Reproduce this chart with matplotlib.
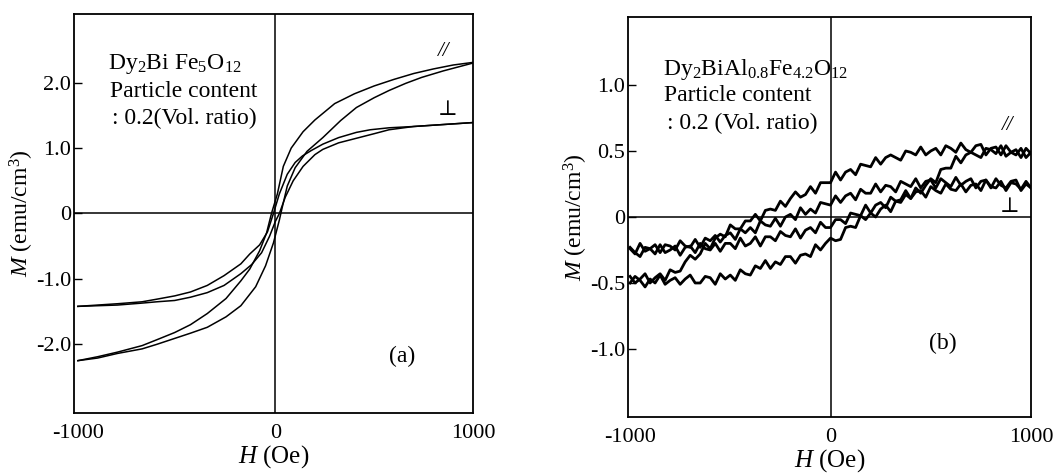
import matplotlib
matplotlib.use("Agg")
import matplotlib.pyplot as plt
import numpy as np

plt.rcParams['font.family'] = ['Liberation Serif', 'DejaVu Serif']
plt.rcParams['mathtext.fontset'] = 'custom'
plt.rcParams['mathtext.rm'] = 'Liberation Serif'
plt.rcParams['mathtext.it'] = 'Liberation Serif:italic'

# ---- panel (a): Dy2BiFe5O12 ----
H_par_dn = [1000, 900, 800, 700, 600, 500, 400, 300, 200, 140, 80, 40, 10, -20, -45,
            -80, -130, -175, -250, -345, -430, -510, -600, -675, -800, -900, -1000]
M_par_dn = [2.31, 2.27, 2.21, 2.14, 2.05, 1.95, 1.83, 1.68, 1.43, 1.25, 1.00, 0.72, 0.30, 0.00, -0.30,
            -0.57, -0.85, -1.03, -1.30, -1.53, -1.70, -1.82, -1.93, -2.02, -2.12, -2.19, -2.25]
H_par_up = [-1000, -900, -800, -675, -600, -510, -430, -345, -250, -175, -100, -50, -10, 20, 35,
            60, 100, 160, 240, 330, 410, 500, 575, 660, 740, 850, 1000]
M_par_up = [-2.25, -2.21, -2.14, -2.07, -2.00, -1.91, -1.83, -1.74, -1.58, -1.41, -1.12, -0.80, -0.45, -0.10, 0.10,
            0.42, 0.70, 0.95, 1.16, 1.42, 1.62, 1.77, 1.88, 1.99, 2.08, 2.18, 2.30]
H_per_dn = [1000, 900, 800, 700, 575, 480, 410, 320, 240, 180, 137, 100, 60, 20, -10,
            -40, -80, -130, -175, -260, -345, -430, -510, -600, -675, -800, -1000]
M_per_dn = [1.39, 1.37, 1.35, 1.33, 1.31, 1.28, 1.24, 1.16, 1.06, 0.96, 0.88, 0.78, 0.60, 0.30, 0.00,
            -0.28, -0.48, -0.62, -0.77, -0.95, -1.10, -1.20, -1.26, -1.31, -1.35, -1.38, -1.42]
H_per_up = [-1000, -800, -675, -600, -510, -430, -345, -260, -175, -120, -70, -30, 0, 20, 50,
            90, 140, 200, 240, 320, 410, 500, 575, 700, 850, 1000]
M_per_up = [-1.42, -1.40, -1.37, -1.35, -1.33, -1.28, -1.21, -1.10, -0.92, -0.78, -0.60, -0.35, -0.12, 0.00, 0.25,
            0.50, 0.72, 0.90, 0.98, 1.08, 1.15, 1.22, 1.28, 1.33, 1.36, 1.39]

# ---- panel (b): Dy2BiAl0.8Fe4.2O12, noisy traces, one value per 25 Oe ----
H_b = np.arange(-1000, 1001, 25)
M_b_par_dn = [-0.45, -0.50, -0.47, -0.43, -0.50, -0.46, -0.43, -0.48, -0.40, -0.42,
              -0.41, -0.34, -0.29, -0.32, -0.28, -0.20, -0.24, -0.16, -0.13, -0.15,
              -0.06, -0.09, -0.09, -0.03, -0.03, 0.02, -0.03, 0.05, 0.06, 0.05,
              0.12, 0.08, 0.14, 0.19, 0.15, 0.17, 0.23, 0.18, 0.26, 0.26,
              0.26, 0.34, 0.28, 0.34, 0.36, 0.32, 0.40, 0.39, 0.38, 0.45,
              0.40, 0.45, 0.47, 0.45, 0.43, 0.50, 0.49, 0.47, 0.53, 0.47,
              0.50, 0.52, 0.47, 0.54, 0.52, 0.49, 0.56, 0.51, 0.49, 0.54,
              0.55, 0.47, 0.52, 0.53, 0.47, 0.54, 0.49, 0.47, 0.52, 0.45, 0.49]
M_b_par_up = [-0.50, -0.45, -0.48, -0.53, -0.47, -0.50, -0.44, -0.51, -0.48, -0.46,
              -0.51, -0.47, -0.44, -0.50, -0.50, -0.45, -0.46, -0.51, -0.43, -0.47,
              -0.44, -0.48, -0.40, -0.43, -0.44, -0.37, -0.39, -0.33, -0.39, -0.34,
              -0.36, -0.30, -0.30, -0.35, -0.29, -0.28, -0.30, -0.21, -0.25, -0.20,
              -0.16, -0.18, -0.17, -0.08, -0.07, -0.08, 0.01, -0.02, 0.03, 0.00,
              0.06, 0.09, 0.04, 0.12, 0.11, 0.17, 0.14, 0.22, 0.18, 0.24,
              0.29, 0.26, 0.36, 0.37, 0.37, 0.46, 0.41, 0.47, 0.49, 0.47,
              0.45, 0.52, 0.51, 0.48, 0.54, 0.46, 0.49, 0.51, 0.45, 0.52, 0.48]
M_b_per_dn = [-0.24, -0.28, -0.20, -0.26, -0.24, -0.21, -0.27, -0.21, -0.22, -0.25,
              -0.18, -0.22, -0.23, -0.17, -0.23, -0.16, -0.18, -0.14, -0.19, -0.14,
              -0.12, -0.17, -0.09, -0.12, -0.08, -0.12, -0.03, -0.06, -0.07, -0.01,
              -0.07, 0.00, 0.02, -0.02, 0.07, 0.02, 0.06, 0.03, 0.11, 0.10,
              0.09, 0.16, 0.11, 0.16, 0.18, 0.13, 0.21, 0.18, 0.18, 0.25,
              0.19, 0.24, 0.23, 0.19, 0.27, 0.25, 0.23, 0.29, 0.22, 0.27,
              0.28, 0.22, 0.29, 0.26, 0.23, 0.30, 0.24, 0.27, 0.29, 0.22,
              0.27, 0.28, 0.22, 0.29, 0.24, 0.22, 0.27, 0.28, 0.20, 0.25, 0.22]
M_b_per_up = [-0.23, -0.27, -0.30, -0.23, -0.24, -0.28, -0.21, -0.27, -0.25, -0.22,
              -0.29, -0.23, -0.22, -0.27, -0.20, -0.24, -0.25, -0.20, -0.26, -0.20,
              -0.20, -0.24, -0.16, -0.22, -0.20, -0.15, -0.22, -0.15, -0.15, -0.18,
              -0.11, -0.14, -0.15, -0.09, -0.16, -0.10, -0.08, -0.12, -0.04, -0.08,
              -0.08, -0.02, -0.02, -0.05, 0.03, 0.02, 0.01, 0.09, 0.03, 0.09,
              0.11, 0.07, 0.15, 0.12, 0.13, 0.20, 0.14, 0.19, 0.20, 0.15,
              0.23, 0.20, 0.18, 0.25, 0.21, 0.20, 0.25, 0.19, 0.24, 0.25,
              0.20, 0.28, 0.23, 0.22, 0.27, 0.20, 0.26, 0.25, 0.21, 0.27, 0.22]

xticks = [-1000, 0, 1000]
xticklabels = ['-1000', '0', '1000']
yticks_a = [-2.0, -1.0, 0, 1.0, 2.0]
yticklabels_a = ['-2.0', '-1.0', '0', '1.0', '2.0']
yticks_b = [-1.0, -0.5, 0, 0.5, 1.0]
yticklabels_b = ['-1.0', '-0.5', '0', '0.5', '1.0']

fig = plt.figure(figsize=(10.58, 4.76), dpi=100)
ax1 = fig.add_axes([0.0699, 0.1324, 0.3771, 0.8382])
ax2 = fig.add_axes([0.5936, 0.124, 0.3809, 0.8403])

def frame(ax, yt, ytl):
    ax.axhline(0, color='k', lw=1.1, zorder=1)
    ax.axvline(0, color='k', lw=1.1, zorder=1)
    for s in ax.spines.values():
        s.set_linewidth(1.3)
    ax.set_xticks(xticks)
    ax.set_xticklabels(xticklabels)
    ax.set_yticks(yt)
    ax.set_yticklabels(ytl)
    ax.tick_params(axis='y', direction='in', length=6, width=1, pad=2, labelsize=16)
    ax.tick_params(axis='x', length=0, pad=8, labelsize=16)
    ax.set_xlabel('$H$ (Oe)', fontsize=18, labelpad=0)
    ax.set_ylabel('$M$ (emu/cm$^3$)', fontsize=17, labelpad=0)

# (a)
ax1.plot(H_par_dn, M_par_dn, color='k', lw=1.1)
ax1.plot(H_par_up, M_par_up, color='k', lw=1.1)
ax1.plot(H_per_dn, M_per_dn, color='k', lw=1.1)
ax1.plot(H_per_up, M_per_up, color='k', lw=1.1)
ax1.set_xlim(-1020, 1000)
ax1.set_ylim(-3.05, 3.05)
frame(ax1, yticks_a, yticklabels_a)
ax1.text(-848, 2.29, 'Dy$_2$Bi Fe$_5$O$_{12}$', fontsize=17, va='center')
ax1.text(-838, 1.87, 'Particle content', fontsize=17, va='center')
ax1.text(-828, 1.45, ': 0.2(Vol. ratio)', fontsize=17, va='center')
ax1.text(850, 2.48, '//', fontsize=15, style='italic', ha='center', va='center')
ax1.text(870, 1.57, '⊥', fontsize=15, ha='center', va='center')
ax1.text(640, -2.18, '(a)', fontsize=17, ha='center', va='center')

# (b)
for m in (M_b_par_dn, M_b_par_up, M_b_per_dn, M_b_per_up):
    ax2.plot(H_b, m, color='k', lw=2.0)
ax2.set_xlim(-1010, 1000)
ax2.set_ylim(-1.515, 1.515)
frame(ax2, yticks_b, yticklabels_b)
ax2.text(-835, 1.12, 'Dy$_2$BiAl$_{0.8}$Fe$_{4.2}$O$_{12}$', fontsize=17, va='center')
ax2.text(-830, 0.92, 'Particle content', fontsize=17, va='center')
ax2.text(-815, 0.71, ': 0.2 (Vol. ratio)', fontsize=17, va='center')
ax2.text(885, 0.69, '//', fontsize=15, style='italic', ha='center', va='center')
ax2.text(895, 0.07, '⊥', fontsize=15, ha='center', va='center')
ax2.text(561, -0.96, '(b)', fontsize=17, ha='center', va='center')

fig.savefig('out.png', dpi=100)
